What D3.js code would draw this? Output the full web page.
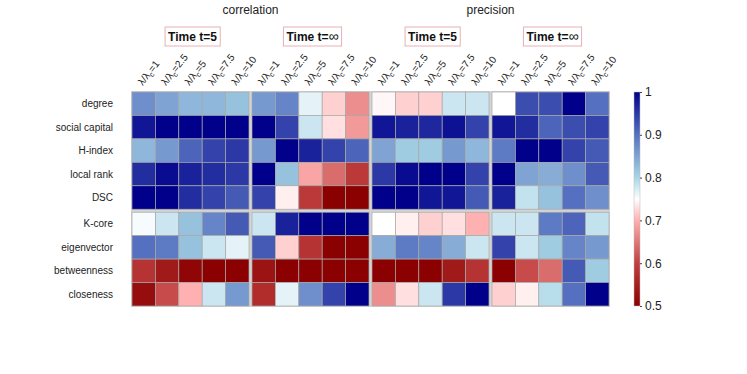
<!DOCTYPE html>
<html><head><meta charset="utf-8">
<script src="https://cdn.jsdelivr.net/npm/d3@7/dist/d3.min.js"></script>
<style>body{margin:0;background:#fff}svg{display:block;font-family:"Liberation Sans",Arial,sans-serif}</style>
</head><body><svg id="c" width="747" height="374"></svg>
<script>
const rows = ["degree","social capital","H-index","local rank","DSC","K-core","eigenvector","betweenness","closeness"];
const lambdas = ["1","2.5","5","7.5","10"];
const metrics = ["correlation","precision"];
const times = ["Time t=5","Time t=∞"];
const groups = ["corrT5","corrTinf","precT5","precTinf"];
const corrT5 = [
 [0.87,0.85,0.83,0.83,0.82],[0.98,1.0,1.0,1.0,1.0],[0.83,0.86,0.91,0.94,0.95],[0.96,0.99,0.97,0.96,0.95],[1.0,1.0,0.96,0.94,0.92],
 [0.755,0.78,0.82,0.88,0.92],[0.90,0.89,0.82,0.78,0.765],[0.58,0.54,0.51,0.50,0.50],[0.52,0.61,0.70,0.78,0.86]];
const corrTinf = [
 [0.86,0.88,0.765,0.72,0.67],[1.0,0.94,0.78,0.73,0.68],[0.86,1.0,0.97,0.94,0.91],[1.0,0.82,0.69,0.64,0.59],[0.94,0.74,0.59,0.50,0.50],
 [0.78,0.97,1.0,1.0,1.0],[0.92,0.72,0.58,0.50,0.50],[0.53,0.50,0.50,0.50,0.50],[0.57,0.765,0.87,0.94,1.0]];
const precT5 = [
 [0.745,0.72,0.72,0.78,0.78],[0.98,0.97,0.965,0.985,0.94],[0.85,0.81,0.81,0.86,0.83],[0.95,0.99,1.0,1.0,0.94],[1.0,1.0,0.98,0.98,0.92],
 [0.75,0.74,0.72,0.73,0.70],[0.84,0.89,0.88,0.84,0.78],[0.50,0.50,0.50,0.54,0.58],[0.67,0.73,0.78,0.95,1.0]];
const precTinf = [
 [0.75,0.93,0.93,1.0,0.90],[0.98,0.96,0.91,0.93,0.94],[0.89,1.0,1.0,0.94,0.92],[1.0,0.85,0.84,0.87,0.92],[0.97,0.785,0.82,0.90,0.87],
 [0.78,0.78,0.89,0.91,0.785],[0.94,0.78,0.81,0.88,0.86],[0.50,0.61,0.64,0.92,0.81],[0.72,0.74,0.79,0.90,1.0]];
const colorTicks = [0.5,0.6,0.7,0.8,0.9,1];
const cmapStops = [0.5,0.6,0.7,0.75,0.8,0.9,1.0];
const cmapColors = ["#8b0000","#c0403f","#ffb0b0","#ffffff","#a8d6e6","#5570c0","#00008b"];

const groupData = {corrT5, corrTinf, precT5, precTinf};
const color = d3.scaleLinear().domain(cmapStops).range(cmapColors).clamp(true);
const svg = d3.select("#c");

const L = 132, R = 609, T = 92, B = 306, gap = 3;
const gx = d3.scaleBand().domain(groups).range([L,R]).paddingInner(gap/((R-L-3*gap)/4+gap));
const ix = d3.scaleBand().domain(lambdas).range([0,gx.bandwidth()]);
const yRow = d3.scaleBand().domain(rows).range([T, B-gap]);
const yPos = r => yRow(r) + (rows.indexOf(r) >= 5 ? gap : 0);

// gray backdrop
svg.append("rect").attr("x",L-1).attr("y",T-1).attr("width",R-L+2).attr("height",B-T+2).attr("fill","#d4d4d4");

const cells = [];
groups.forEach(g => rows.forEach((r,ri) => lambdas.forEach((l,li) => cells.push({g, r, l, v: groupData[g][ri][li]}))));
svg.append("g").selectAll("rect").data(cells).join("rect")
  .attr("x", d => gx(d.g) + ix(d.l))
  .attr("y", d => yPos(d.r))
  .attr("width", ix.bandwidth()).attr("height", yRow.bandwidth())
  .attr("fill", d => color(d.v))
  .attr("stroke", "#a8a8a8").attr("stroke-width", 0.7);

// row labels
svg.append("g").selectAll("text").data(rows).join("text")
  .attr("x", 113).attr("y", d => yPos(d) + yRow.bandwidth()/2 + 3.5)
  .attr("text-anchor","end").attr("font-size",10).attr("fill","#222").text(d => d);

// column labels
const colLabels = [];
groups.forEach(g => lambdas.forEach(l => colLabels.push({g,l})));
const cl = svg.append("g").selectAll("text").data(colLabels).join("text")
  .attr("transform", d => `translate(${gx(d.g)+ix(d.l)+ix.bandwidth()/2-1},${86}) rotate(-52)`)
  .attr("font-size", 10).attr("fill","#222");
cl.append("tspan").text("λ/λ");
cl.append("tspan").attr("font-size",7.5).attr("dy",2.5).text("c");
cl.append("tspan").attr("dy",-2.5).text(d => "=" + d.l);

// metric titles
metrics.forEach((m,i) => {
  const x0 = gx(groups[2*i]), x1 = gx(groups[2*i+1]) + gx.bandwidth();
  svg.append("text").attr("x",(x0+x1)/2).attr("y",14).attr("text-anchor","middle")
    .attr("font-size",12).attr("fill","#222").text(m);
});

// time boxes
groups.forEach((g,i) => {
  const cx = gx(g) + gx.bandwidth()/2 + 2;
  const bg = svg.append("g");
  const box = bg.append("rect");
  const t = bg.append("text").attr("x",cx).attr("y",41).attr("text-anchor","middle")
    .attr("font-size",12).attr("font-weight","bold").attr("fill","#111");
  const lab = times[i%2];
  if (lab.endsWith("∞")) {
    t.append("tspan").text(lab.slice(0,-1));
    t.append("tspan").attr("font-weight","normal").attr("font-size",14).text("∞");
  } else t.text(lab);
  const bb = t.node().getBBox();
  box.attr("x",bb.x-3).attr("y",27).attr("width",bb.width+6).attr("height",19)
    .attr("fill","#fff").attr("stroke","#e8b0b4").attr("stroke-width",1);
});

// colorbar
const cbX = 634, cbW = 6;
const cy = d3.scaleLinear().domain([0.5,1]).range([B,T]);
const defs = svg.append("defs");
const grad = defs.append("linearGradient").attr("id","cb").attr("x1",0).attr("y1",1).attr("x2",0).attr("y2",0);
cmapStops.forEach((s,i) => grad.append("stop").attr("offset",(s-0.5)/0.5).attr("stop-color",cmapColors[i]));
svg.append("rect").attr("x",cbX).attr("y",T).attr("width",cbW).attr("height",B-T).attr("fill","url(#cb)")
  .attr("stroke","#bbb").attr("stroke-width",0.5);
const ax = svg.append("g").attr("transform",`translate(${cbX+cbW},0)`)
  .call(d3.axisRight(cy).tickValues(colorTicks).tickSize(2).tickPadding(3).tickFormat(d3.format("~g")));
ax.select(".domain").remove();
ax.selectAll("line").attr("stroke","#444");
ax.selectAll("text").attr("font-size",12).attr("fill","#222").attr("font-family","Liberation Sans, Arial, sans-serif");
</script></body></html>
